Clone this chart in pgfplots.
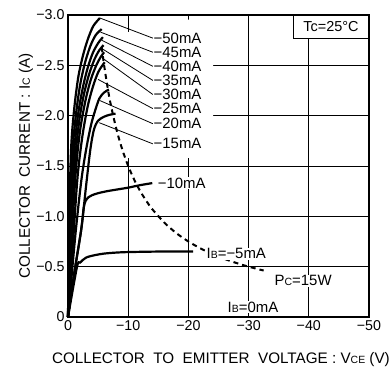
\documentclass[border=0pt]{standalone}
\usepackage{fontspec}
\setmainfont{Liberation Sans}
\usepackage{pgfplots}
\pgfplotsset{compat=1.18}
\newcommand\sm[1]{{\fontsize{10.5}{10.5}\selectfont #1}}
\tikzset{lbl/.style={anchor=west, fill=white, inner sep=0.6bp, font=\fontsize{15}{17}\selectfont}}
\pgfplotsset{curve/.style={black, line width=2.2bp, smooth, no markers}}
\begin{document}
\begin{tikzpicture}
\begin{axis}[
  at={(0,0)}, anchor=south west,
  width=301bp, height=302bp, scale only axis,
  xmin=-50, xmax=0, ymin=-3, ymax=0,
  x dir=reverse, y dir=reverse,
  xtick={0,-10,-20,-30,-40,-50},
  xticklabels={0,−10,−20,−30,−40,−50},
  ytick={0,-0.5,-1,-1.5,-2,-2.5,-3},
  yticklabels={0,−0.5,−1.0,−1.5,−2.0,−2.5,−3.0},
  major tick length=0pt,
  grid=major,
  major grid style={black, line width=0.8bp},
  axis line style={line width=2.5bp},
  tick label style={font=\fontsize{14.3}{16}\selectfont},
  label style={font=\fontsize{15.3}{17}\selectfont},
  xlabel={COLLECTOR\ \ TO\ \ EMITTER\ \ VOLTAGE : V\sm{CE} (V)},
  ylabel={COLLECTOR\ \ CURRENT : I\sm{C} (A)},
  xlabel style={at={(axis description cs:0.508,-0.142)}, anchor=center},
  ylabel style={at={(axis description cs:-0.1395,0.5)}, anchor=center},
  clip=false,
]
% white area behind labels
\fill[white] (axis cs:-4.5,-2.71) -- (axis cs:-10,-2.83) -- (axis cs:-19.9,-2.955) -- (axis cs:-24.1,-2.955) -- (axis cs:-24.1,-1.58) -- (axis cs:-4.5,-1.58) -- cycle;

% IB = -50 mA
\addplot[curve] coordinates {(0,0) (-0.2,-0.9) (-0.5,-1.65) (-1.0,-2.05) (-1.7,-2.38) (-2.5,-2.6) (-3.3,-2.76) (-4.2,-2.89) (-5.3,-2.97)};
% -45
\addplot[curve] coordinates {(0,0) (-0.3,-0.9) (-0.7,-1.6) (-1.3,-2.0) (-2.0,-2.3) (-2.8,-2.52) (-3.7,-2.69) (-4.6,-2.8) (-5.6,-2.86)};
% -40
\addplot[curve] coordinates {(0,0) (-0.4,-0.9) (-0.9,-1.55) (-1.6,-1.98) (-2.4,-2.26) (-3.2,-2.46) (-4.1,-2.62) (-5.0,-2.72) (-5.8,-2.78)};
% -35
\addplot[curve] coordinates {(0,0) (-0.5,-0.85) (-1.1,-1.5) (-1.8,-1.92) (-2.6,-2.2) (-3.5,-2.41) (-4.4,-2.56) (-5.2,-2.65) (-5.9,-2.70)};
% -30
\addplot[curve] coordinates {(0,0) (-0.7,-0.85) (-1.3,-1.45) (-2.0,-1.85) (-2.9,-2.15) (-3.8,-2.36) (-4.7,-2.5) (-5.4,-2.58) (-6.0,-2.63)};
% -25
\addplot[curve] coordinates {(0,0) (-0.9,-0.8) (-1.6,-1.4) (-2.4,-1.8) (-3.3,-2.1) (-4.2,-2.3) (-5.0,-2.43) (-5.6,-2.49) (-6.1,-2.53)};
% -20
\addplot[curve] coordinates {(0,0) (-1.2,-0.8) (-2.2,-1.35) (-3.0,-1.66) (-3.8,-1.9) (-4.4,-2.03) (-5.2,-2.17) (-6.0,-2.23) (-6.8,-2.26)};
% -15
\addplot[curve] coordinates {(0,0) (-1.0,-0.42) (-2.2,-0.87) (-3.0,-1.3) (-3.7,-1.66) (-4.3,-1.86) (-5.0,-1.95) (-6.0,-1.99) (-7.0,-2.01) (-7.9,-2.02)};
% -10
\addplot[curve] coordinates {(0,0) (-1.0,-0.42) (-2.2,-0.87) (-2.6,-1.08) (-2.9,-1.15) (-3.4,-1.19) (-4.0,-1.21) (-5.0,-1.23) (-6.5,-1.25) (-8.5,-1.27) (-10,-1.285) (-12,-1.31) (-14,-1.33)};
% -5
\addplot[curve] coordinates {(0,0) (-1.5,-0.5) (-2.0,-0.54) (-3.0,-0.59) (-4.5,-0.615) (-6,-0.63) (-8,-0.64) (-10,-0.645) (-15,-0.65) (-20.8,-0.65)};

% Pc = 15 W
\addplot[black, line width=2bp, dash pattern=on 5bp off 4bp, smooth, no markers] coordinates {
(-5.6,-2.68) (-6,-2.5) (-6.5,-2.31) (-7,-2.14) (-8,-1.875) (-9,-1.667) (-10,-1.5) (-11,-1.364) (-12,-1.25) (-13,-1.154) (-14,-1.071) (-16,-0.9375) (-18,-0.833) (-20,-0.75) (-22,-0.682) (-24,-0.625) (-26,-0.577) (-28,-0.536) (-30,-0.5) (-32.5,-0.4615)};

% leader lines
\draw[black, line width=0.8bp] (axis cs:-5.3,-2.97) -- (axis cs:-14.1,-2.77);
\draw[black, line width=0.8bp] (axis cs:-5.4,-2.83) -- (axis cs:-14.1,-2.63);
\draw[black, line width=0.8bp] (axis cs:-5.6,-2.75) -- (axis cs:-14.1,-2.49);
\draw[black, line width=0.8bp] (axis cs:-5.8,-2.66) -- (axis cs:-14.1,-2.35);
\draw[black, line width=0.8bp] (axis cs:-6.0,-2.56) -- (axis cs:-14.1,-2.21);
\draw[black, line width=0.8bp] (axis cs:-5.0,-2.36) -- (axis cs:-14.1,-2.07);
\draw[black, line width=0.8bp] (axis cs:-5.3,-2.15) -- (axis cs:-14.1,-1.92);
\draw[black, line width=0.8bp] (axis cs:-5.2,-1.93) -- (axis cs:-14.1,-1.72);

% labels
\node[lbl] at (axis cs:-14.1,-2.77) {−50mA};
\node[lbl] at (axis cs:-14.1,-2.63) {−45mA};
\node[lbl] at (axis cs:-14.1,-2.49) {−40mA};
\node[lbl] at (axis cs:-14.1,-2.35) {−35mA};
\node[lbl] at (axis cs:-14.1,-2.21) {−30mA};
\node[lbl] at (axis cs:-14.1,-2.07) {−25mA};
\node[lbl] at (axis cs:-14.1,-1.92) {−20mA};
\node[lbl] at (axis cs:-14.1,-1.72) {−15mA};
\node[lbl] at (axis cs:-14.8,-1.33) {−10mA};
\node[lbl] at (axis cs:-22.9,-0.627) {I\sm{B}=−5mA};
\node[lbl] at (axis cs:-34.2,-0.36) {P\sm{C}=15W};
\node[lbl] at (axis cs:-26.4,-0.10) {I\sm{B}=0mA};

% Tc box
\draw[black, fill=white, line width=0.8bp] (axis cs:-37.4,-3) rectangle (axis cs:-50,-2.77);
\node[font=\fontsize{14.5}{16}\selectfont, inner sep=0pt] at (axis cs:-43.7,-2.885) {Tc=25°C};

% frame
\draw[black, line width=2.5bp] (rel axis cs:0,0) rectangle (rel axis cs:1,1);
\end{axis}
\pgfresetboundingbox
\useasboundingbox (-68bp,-52bp) rectangle (324bp,317bp);
\end{tikzpicture}
\end{document}
